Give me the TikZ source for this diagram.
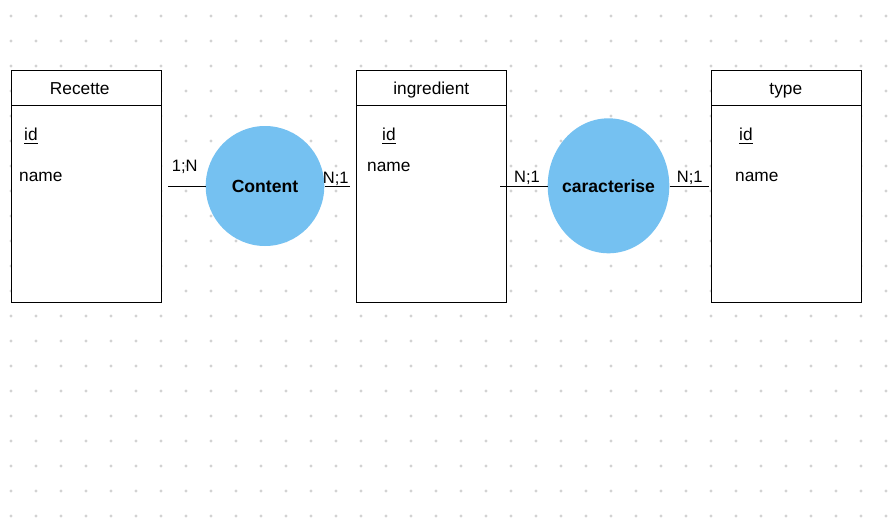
\documentclass[tikz,border=0pt]{standalone}
\usepackage{fontspec}
\setmainfont{Liberation Sans}
\usetikzlibrary{shapes.geometric}
\definecolor{relblue}{HTML}{75C1F1}
\definecolor{dotgray}{HTML}{D2D2D2}
\tikzset{
  entity/.style={draw=black, line width=1pt, fill=white, minimum width=150pt, minimum height=232pt, anchor=north west, inner sep=0pt},
  relation/.style={ellipse, fill=relblue, inner sep=0pt},
  rellabel/.style={inner sep=0pt, font=\fontsize{17.6}{20}\selectfont\bfseries},
  attr/.style={anchor=base west, inner sep=0pt, font=\fontsize{17.3}{20}\selectfont},
  title/.style={anchor=base, inner sep=0pt, font=\fontsize{17.3}{20}\selectfont},
  card/.style={anchor=base, inner sep=0pt, font=\fontsize{16.5}{19}\selectfont},
  link/.style={draw=black, line width=1pt},
  uline/.style={draw=black, line width=0.9pt}
}
\begin{document}
\begin{tikzpicture}[x=1pt,y=-1pt]
\useasboundingbox (0,0) rectangle (888,522);
\fill[white] (0,0) rectangle (888,522);
\foreach \i in {0,...,35}{\foreach \j in {0,...,20}{\fill[dotgray] (11+25*\i,16+25*\j) circle[radius=1.6pt];}}

% entities
\node[entity] (recette) at (11.2,70.4) {};
\node[entity] (ingr) at (356.2,70.4) {};
\node[entity] (type) at (711.2,70.4) {};
\foreach \e in {recette,ingr,type}{
  \draw[link] ([xshift=1pt,yshift=-35pt]\e.north west) -- ([xshift=-1pt,yshift=-35pt]\e.north east);
}

% titles
\node[title] (tRec) at (79.7,94.3) {Recette};
\node[title] (tIng) at (431.3,94.3) {ingredient};
\node[title] (tTyp) at (785.8,94.3) {type};

% attributes
\node[attr] (idRec) at (24,140.5) {id};
\node[attr] (nmRec) at (19,181.7) {name};
\node[attr] (idIng) at (382,140.5) {id};
\node[attr] (nmIng) at (367,171) {name};
\node[attr] (idTyp) at (739,140.5) {id};
\node[attr] (nmTyp) at (735,181.7) {name};
\foreach \n in {idRec,idIng,idTyp}{
  \draw[uline] ([yshift=-3pt]\n.base west) -- ([yshift=-3pt]\n.base east);
}

% relations
\node[relation, minimum width=118.6pt, minimum height=120pt] (content) at (265,186) {};
\node[relation, minimum width=121.6pt, minimum height=135pt] (carac) at (608.5,185.8) {};
\node[rellabel] (lContent) at (content.center) {Content};
\node[rellabel] (lCarac) at (carac.center) {caracterise};

% connectors
\coordinate (a1) at (168,186.3);
\coordinate (a2) at (350,186.3);
\coordinate (b1) at (500,186.3);
\coordinate (b2) at (709,186.3);
\draw[link] (a1) -- (a1 -| content.west);
\draw[link] (a2 -| content.east) -- (a2);
\draw[link] (b1) -- (b1 -| carac.west);
\draw[link] (b2 -| carac.east) -- (b2);

% cardinalities
\node[card] (c1) at (184.7,171.7) {1;N};
\node[card] (c2) at (335.8,183) {N;1};
\node[card] (c3) at (527,182.7) {N;1};
\node[card] (c4) at (689.8,182.7) {N;1};
\end{tikzpicture}
\end{document}
